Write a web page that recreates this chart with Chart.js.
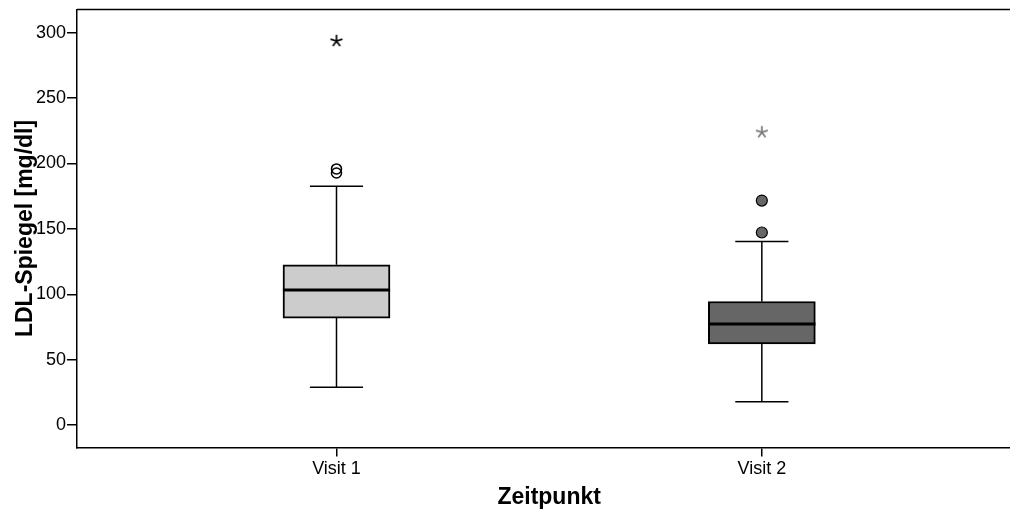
<!DOCTYPE html>
<html>
<head>
<meta charset="utf-8">
<script src="https://cdn.jsdelivr.net/npm/chart.js@4/dist/chart.umd.min.js"></script>
<style>
  html, body { margin: 0; padding: 0; background: #fff; overflow: hidden; }
  /* der Rahmen rechts liegt im Original ausserhalb des Bildes */
  #wrap { position: relative; width: 1010px; height: 509px; overflow: hidden; }
  #boxplot { display: block; }
</style>
</head>
<body>
<div id="wrap"><canvas id="boxplot" width="1028" height="509"></canvas></div>
<script>
// Werte
const categories = ['Visit 1', 'Visit 2'];
const xPos = [1, 2];
const whiskerLow = [28.9, 17.9];
const q1 = [81.8, 62.0];
const median = [103.2, 77.3];
const q3 = [122.5, 94.5];
const whiskerHigh = [182.6, 140.3];
const boxColors = ['#cccccc', '#666666'];
// Ausreisser (Kreise) und Extremwerte (Sterne)
const outliersVisit1 = [195.8, 192.7];
const outliersVisit2 = [171.6, 147.2];
const extremesVisit1 = [293.5];
const extremesVisit2 = [223.8];

const boxHalf = 0.126;
const capHalf = 0.0625;

function makeStar(color) {
  const c = document.createElement('canvas');
  c.width = 16;
  c.height = 16;
  const ctx = c.getContext('2d');
  ctx.strokeStyle = color;
  ctx.lineWidth = 1.7;
  ctx.lineCap = 'butt';
  for (let k = 0; k < 5; k++) {
    const a = (-90 + k * 72) * Math.PI / 180;
    ctx.beginPath();
    ctx.moveTo(8, 8);
    ctx.lineTo(8 + 6.2 * Math.cos(a), 8 + 6.2 * Math.sin(a));
    ctx.stroke();
  }
  return c;
}

function segment(x1, y1, x2, y2, width) {
  return {
    type: 'line',
    data: [{ x: x1, y: y1 }, { x: x2, y: y2 }],
    borderColor: '#000',
    borderWidth: width,
    pointRadius: 0,
    fill: false,
  };
}

const lineSets = [];
xPos.forEach((x, i) => {
  lineSets.push(segment(x - boxHalf, median[i], x + boxHalf, median[i], 3));
  lineSets.push(segment(x, q3[i], x, whiskerHigh[i], 1.5));
  lineSets.push(segment(x, q1[i], x, whiskerLow[i], 1.5));
  lineSets.push(segment(x - capHalf, whiskerHigh[i], x + capHalf, whiskerHigh[i], 1.5));
  lineSets.push(segment(x - capHalf, whiskerLow[i], x + capHalf, whiskerLow[i], 1.5));
});

const pointSets = [
  {
    type: 'scatter',
    data: outliersVisit1.map((v) => ({ x: 1, y: v })),
    pointStyle: 'circle',
    pointRadius: 5,
    backgroundColor: 'rgba(255,255,255,0)',
    borderColor: '#000',
    borderWidth: 1.5,
  },
  {
    type: 'scatter',
    data: outliersVisit2.map((v) => ({ x: 2, y: v })),
    pointStyle: 'circle',
    pointRadius: 5.5,
    backgroundColor: '#666666',
    borderColor: '#000',
    borderWidth: 1.2,
  },
  {
    type: 'scatter',
    data: extremesVisit1.map((v) => ({ x: 1, y: v })),
    pointStyle: makeStar('#000'),
  },
  {
    type: 'scatter',
    data: extremesVisit2.map((v) => ({ x: 2, y: v })),
    pointStyle: makeStar('#777'),
  },
];

const boxSet = {
  type: 'bar',
  data: xPos.map((x, i) => ({ x: x, y: [q1[i], q3[i]] })),
  backgroundColor: boxColors,
  borderColor: '#000',
  borderWidth: 2,
  borderSkipped: false,
  barThickness: 107,
  grouped: false,
};

// Rahmen oben
const framePlugin = {
  id: 'frame',
  afterDraw(chart) {
    const { ctx, chartArea } = chart;
    ctx.save();
    ctx.strokeStyle = '#000';
    ctx.lineWidth = 1.5;
    ctx.beginPath();
    ctx.moveTo(chartArea.left, chartArea.top);
    ctx.lineTo(chartArea.right, chartArea.top);
    ctx.stroke();
    ctx.restore();
  },
};

const tickFont = { family: 'Liberation Sans, Arial, sans-serif', size: 18 };
const titleFont = { family: 'Liberation Sans, Arial, sans-serif', size: 23, weight: 'bold', lineHeight: 1 };

const chart = new Chart(document.getElementById('boxplot'), {
  type: 'bar',
  data: { datasets: [...pointSets, ...lineSets, boxSet] },
  options: {
    responsive: false,
    animation: false,
    devicePixelRatio: 1,
    layout: { padding: { top: 9.5, right: 0, left: 14, bottom: 0 } },
    plugins: { legend: { display: false }, tooltip: { enabled: false } },
    scales: {
      x: {
        type: 'linear',
        min: 0.39,
        max: 2.61,
        offset: false,
        afterBuildTicks: (axis) => {
          axis.ticks = xPos.map((v) => ({ value: v }));
        },
        ticks: {
          color: '#000',
          font: tickFont,
          padding: 2,
          callback: (v) => categories[xPos.indexOf(v)],
        },
        grid: { display: true, drawOnChartArea: false, offset: false, color: '#000', lineWidth: 1.5, tickLength: 9 },
        border: { display: true, color: '#000', width: 1.5 },
        title: { display: true, text: 'Zeitpunkt', color: '#000', font: titleFont, padding: { top: 4, bottom: 0 } },
      },
      y: {
        min: -17,
        max: 317.6,
        afterBuildTicks: (axis) => {
          axis.ticks = [0, 50, 100, 150, 200, 250, 300].map((v) => ({ value: v }));
        },
        ticks: { color: '#000', font: { ...tickFont, lineHeight: 0.9 }, padding: 1 },
        grid: { display: true, drawOnChartArea: false, color: '#000', lineWidth: 1.5, tickLength: 10 },
        border: { display: true, color: '#000', width: 1.5 },
        title: { display: true, text: 'LDL-Spiegel [mg/dl]', color: '#000', font: titleFont, padding: { top: 0, bottom: -2 } },
      },
    },
  },
  plugins: [framePlugin],
});
</script>
</body>
</html>
